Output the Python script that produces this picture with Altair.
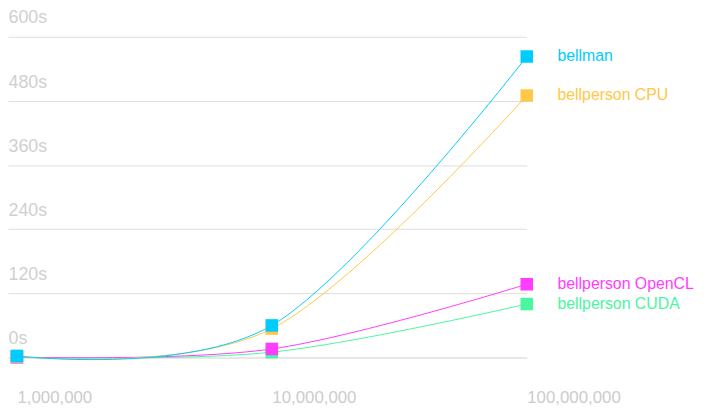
import altair as alt
import pandas as pd

sizes = [1_000_000, 10_000_000, 100_000_000]
series = ["bellperson CUDA", "bellperson OpenCL", "bellperson CPU", "bellman"]
cuda_s = [0.3, 10, 100]
opencl_s = [0.6, 16, 137]
cpu_s = [2, 54, 490]
bellman_s = [3, 60, 563]
colors = ["#4cf5a0", "#ff3dff", "#ffc846", "#00ccff"]
y_ticks = [0, 120, 240, 360, 480, 600]
x_ticks = [1_000_000, 10_000_000, 100_000_000]

values = [cuda_s, opencl_s, cpu_s, bellman_s]
rows = []
for z, (name, vals) in enumerate(zip(series, values)):
    for s, v in zip(sizes, vals):
        rows.append({"size": s, "time": v, "series": name, "z": z})
df = pd.DataFrame(rows)

FONT = "Liberation Sans"

x = alt.X(
    "size:Q",
    scale=alt.Scale(type="log", domain=[922571, 100_000_000], nice=False),
    axis=alt.Axis(
        values=x_ticks,
        labelExpr="format(datum.value, ',')",
        labelAlign="left",
        labelBaseline="alphabetic",
        labelPadding=45,
        tickSize=0,
        ticks=False,
        domain=False,
        grid=False,
        labelFontSize=17,
        labelColor="#cccccc",
        labelFont=FONT,
        labelFlush=False,
        labelOverlap=False,
        title=None,
    ),
)
y = alt.Y(
    "time:Q",
    scale=alt.Scale(domain=[0, 600], nice=False),
    axis=alt.Axis(
        values=y_ticks,
        labelExpr="datum.value + 's'",
        labelAlign="left",
        labelBaseline="alphabetic",
        labelOffset=-14,
        labelPadding=0,
        tickSize=0,
        ticks=False,
        domain=False,
        grid=True,
        gridColor={"condition": {"test": "datum.value === 0", "value": "#cfcfcf"}, "value": "#dedede"},
        gridWidth=1,
        labelFontSize=18,
        labelColor="#d0d0d0",
        labelFont=FONT,
        labelFlush=False,
        labelOverlap=False,
        title=None,
    ),
)
color = alt.Color("series:N", scale=alt.Scale(domain=series, range=colors), legend=None)

base = alt.Chart(df)
lines = base.mark_line(interpolate="cardinal", strokeWidth=1).encode(x=x, y=y, color=color, detail="series:N")
points = base.mark_square(size=160, opacity=1, filled=True).encode(x=x, y=y, color=color, order=alt.Order("z:Q"))
labels = base.transform_filter("datum.size == 100000000").mark_text(
    align="left", baseline="middle", dx=31, fontSize=16, font=FONT
).encode(x=x, y=y, color=color, text="series:N")

chart = (
    alt.layer(lines, points, labels)
    .properties(
        width=524,
        height=324,
        autosize=alt.AutoSizeParams(type="none"),
        padding={"left": 0, "top": 27, "right": 174, "bottom": 51},
    )
    .configure_view(stroke=None)
)
chart.save("out.html", embed_options={"renderer": "svg", "actions": False})
